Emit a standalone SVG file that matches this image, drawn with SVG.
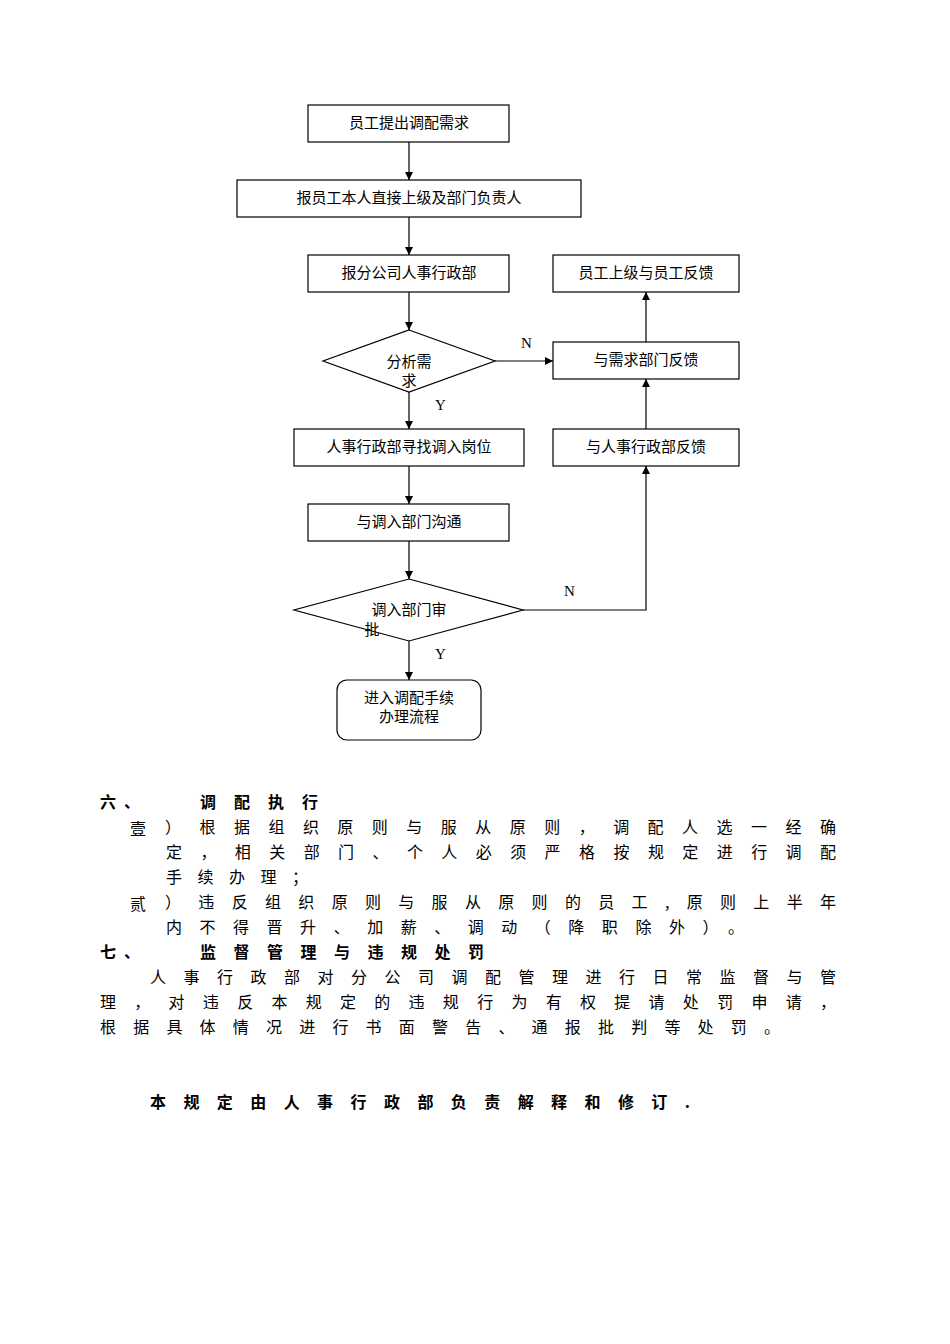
<svg xmlns="http://www.w3.org/2000/svg" width="950" height="1344" viewBox="0 0 950 1344">
<style>
.b{fill:#fff;stroke:#000;stroke-width:1.2}
.t{font-family:"Liberation Serif","Noto Sans CJK SC",serif;font-size:15px;fill:#000;text-anchor:middle}
.l{font-family:"Liberation Serif","Noto Sans CJK SC",serif;font-size:15px;fill:#000}
.p{font-family:"Noto Sans CJK SC",sans-serif;font-size:16px;fill:#000}
.h{font-weight:bold}
.c{fill:none;stroke:#000;stroke-width:1.2}
</style>
<defs><marker id="a" viewBox="0 0 10 10" refX="10" refY="5" markerWidth="8" markerHeight="8" orient="auto" markerUnits="userSpaceOnUse"><path d="M0,0L10,5L0,10z"/></marker></defs>
<rect width="950" height="1344" fill="#fff"/>
<g id="connectors">
<path class="c" d="M409,142V180" marker-end="url(#a)"/>
<path class="c" d="M409,217V255" marker-end="url(#a)"/>
<path class="c" d="M409,292V330" marker-end="url(#a)"/>
<path class="c" d="M409,392V429" marker-end="url(#a)"/>
<path class="c" d="M409,466V504" marker-end="url(#a)"/>
<path class="c" d="M409,541V579" marker-end="url(#a)"/>
<path class="c" d="M409,641V680" marker-end="url(#a)"/>
<path class="c" d="M495,361H553" marker-end="url(#a)"/>
<path class="c" d="M523,610H646V466" marker-end="url(#a)"/>
<path class="c" d="M646,429V379" marker-end="url(#a)"/>
<path class="c" d="M646,342V292" marker-end="url(#a)"/>
<text class="l" x="521" y="348">N</text>
<text class="l" x="435" y="410">Y</text>
<text class="l" x="564" y="596">N</text>
<text class="l" x="435" y="659">Y</text>
</g>
<g id="n1"><rect class="b" x="308" y="105" width="201" height="37"/><text class="t" x="409" y="128">员工提出调配需求</text></g>
<g id="n2"><rect class="b" x="237" y="180" width="344" height="37"/><text class="t" x="409" y="203">报员工本人直接上级及部门负责人</text></g>
<g id="n3"><rect class="b" x="308" y="255" width="201" height="37"/><text class="t" x="409" y="278">报分公司人事行政部</text></g>
<g id="d1"><polygon class="b" points="409,330 495,361 409,392 323,361"/><text class="t" x="409" y="367">分析需</text><text class="t" x="409" y="386">求</text></g>
<g id="n4"><rect class="b" x="294" y="429" width="230" height="37"/><text class="t" x="409" y="452">人事行政部寻找调入岗位</text></g>
<g id="n5"><rect class="b" x="308" y="504" width="201" height="37"/><text class="t" x="409" y="527">与调入部门沟通</text></g>
<g id="d2"><polygon class="b" points="409,579 523,610 409,641 294,610"/><text class="t" x="409" y="615">调入部门审</text><text class="t" x="372" y="635">批</text></g>
<g id="n6"><rect class="b" x="337" y="680" width="144" height="60" rx="10"/><text class="t" x="409" y="703">进入调配手续</text><text class="t" x="409" y="722">办理流程</text></g>
<g id="r1"><rect class="b" x="553" y="255" width="186" height="37"/><text class="t" x="646" y="278">员工上级与员工反馈</text></g>
<g id="r2"><rect class="b" x="553" y="342" width="186" height="37"/><text class="t" x="646" y="365">与需求部门反馈</text></g>
<g id="r3"><rect class="b" x="553" y="429" width="186" height="37"/><text class="t" x="646" y="452">与人事行政部反馈</text></g>
<g id="body">
<text class="p h" x="100" y="808" textLength="40" lengthAdjust="spacing">六、</text>
<text class="p h" x="200" y="808" textLength="118" lengthAdjust="spacing">调配执行</text>
<text class="p" x="130" y="835" font-size="20">壹</text>
<text class="p" x="165" y="833" textLength="671" lengthAdjust="spacing">）根据组织原则与服从原则，调配人选一经确</text>
<text class="p" x="166" y="858" textLength="670" lengthAdjust="spacing">定，相关部门、个人必须严格按规定进行调配</text>
<text class="p" x="166" y="883" textLength="142" lengthAdjust="spacing">手续办理；</text>
<text class="p" x="130" y="910" font-size="20">贰</text>
<text class="p" x="165" y="908" textLength="671" lengthAdjust="spacing">）违反组织原则与服从原则的员工,原则上半年</text>
<text class="p" x="166" y="933" textLength="578" lengthAdjust="spacing">内不得晋升、加薪、调动（降职除外）。</text>
<text class="p h" x="100" y="958" textLength="40" lengthAdjust="spacing">七、</text>
<text class="p h" x="200" y="958" textLength="284" lengthAdjust="spacing">监督管理与违规处罚</text>
<text class="p" x="150" y="983" textLength="686" lengthAdjust="spacing">人事行政部对分公司调配管理进行日常监督与管</text>
<text class="p" x="100" y="1008" textLength="736" lengthAdjust="spacing">理，对违反本规定的违规行为有权提请处罚申请，</text>
<text class="p" x="100" y="1033" textLength="680" lengthAdjust="spacing">根据具体情况进行书面警告、通报批判等处罚。</text>
<text class="p h" x="150" y="1108" textLength="540" lengthAdjust="spacing">本规定由人事行政部负责解释和修订.</text>
</g>
</svg>
